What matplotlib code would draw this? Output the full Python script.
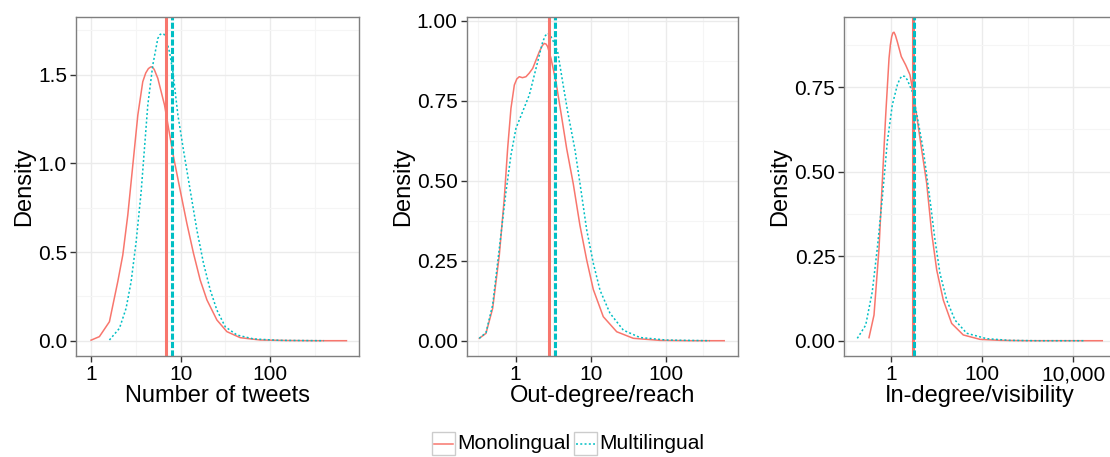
import numpy as np
import matplotlib
matplotlib.use("Agg")
import matplotlib.pyplot as plt
from matplotlib.patches import Rectangle
from matplotlib.lines import Line2D
from matplotlib.ticker import NullFormatter

plt.rcParams['font.family'] = ['Liberation Sans', 'DejaVu Sans']

# ---------------- data (x in log10 units, y = density) ----------------
groups = ["Monolingual", "Multilingual"]

tweets_mono_logx = [0.0, 0.093, 0.205, 0.298, 0.354, 0.41, 0.466, 0.522, 0.577, 0.61, 0.64, 0.665,
                    0.682, 0.705, 0.745, 0.82, 0.92, 0.994, 1.069, 1.143, 1.218, 1.293, 1.404,
                    1.516, 1.665, 1.888, 2.2, 2.5, 2.85]
tweets_mono_y = [0.003, 0.023, 0.107, 0.333, 0.483, 0.709, 0.991, 1.273, 1.461, 1.51, 1.535, 1.544,
                 1.545, 1.53, 1.48, 1.329, 1.038, 0.85, 0.662, 0.493, 0.342, 0.23, 0.117,
                 0.051, 0.017, 0.004, 0.001, 0.0, 0.0]
tweets_multi_logx = [0.205, 0.317, 0.391, 0.447, 0.503, 0.559, 0.596, 0.633, 0.689, 0.745, 0.77,
                     0.794, 0.815, 0.831, 0.875, 0.913, 0.969, 1.031, 1.106, 1.181, 1.255, 1.33,
                     1.404, 1.497, 1.628, 1.813, 2.1, 2.6]
tweets_multi_y = [0.004, 0.07, 0.183, 0.333, 0.558, 0.84, 1.085, 1.329, 1.555, 1.705, 1.727,
                  1.733, 1.728, 1.715, 1.63, 1.517, 1.273, 1.076, 0.85, 0.624, 0.436, 0.286,
                  0.173, 0.079, 0.032, 0.01, 0.002, 0.0]

out_mono_logx = [-0.485, -0.396, -0.307, -0.218, -0.152, -0.107, -0.063, -0.018, 0.015, 0.048,
                 0.09, 0.137, 0.18, 0.227, 0.315, 0.355, 0.381, 0.405, 0.426, 0.471, 0.537, 0.604,
                 0.68, 0.768, 0.857, 0.947, 1.035, 1.168, 1.347, 1.568, 1.924, 2.3, 2.78]
out_mono_y = [0.0075, 0.023, 0.101, 0.268, 0.445, 0.601, 0.726, 0.799, 0.818, 0.825,
              0.822, 0.825, 0.836, 0.851, 0.903, 0.922, 0.929, 0.927, 0.919, 0.882, 0.809, 0.712,
              0.6, 0.49, 0.36, 0.252, 0.16, 0.075, 0.028, 0.0075, 0.001, 0.0, 0.0]
out_multi_logx = [-0.485, -0.396, -0.307, -0.218, -0.129, -0.063, 0.004, 0.093, 0.182, 0.271,
                  0.36, 0.395, 0.426, 0.46, 0.493, 0.56, 0.627, 0.693, 0.791, 0.857, 0.947,
                  1.035, 1.124, 1.257, 1.435, 1.657, 2.01, 2.59]
out_multi_y = [0.0075, 0.025, 0.112, 0.289, 0.466, 0.58, 0.664, 0.716, 0.768, 0.851,
               0.934, 0.953, 0.961, 0.955, 0.94, 0.903, 0.8075, 0.716, 0.596, 0.492, 0.346,
               0.242, 0.158, 0.086, 0.033, 0.01, 0.002, 0.0]

in_mono_logx = [-0.49, -0.38, -0.27, -0.198, -0.123, -0.05, -0.02, 0.009, 0.035, 0.059, 0.09,
                0.132, 0.22, 0.316, 0.411, 0.499, 0.609, 0.668, 0.778, 0.888, 0.998, 1.143,
                1.327, 1.582, 1.95, 2.4, 3.0, 4.637]
in_mono_y = [0.009, 0.076, 0.273, 0.47, 0.667, 0.835, 0.875, 0.899, 0.91, 0.912, 0.903,
             0.884, 0.84, 0.815, 0.786, 0.717, 0.618, 0.564, 0.465, 0.318, 0.209, 0.12,
             0.051, 0.017, 0.004, 0.001, 0.0, 0.0]
in_multi_logx = [-0.747, -0.563, -0.418, -0.308, -0.198, -0.088, 0.022, 0.132, 0.19, 0.242, 0.3,
                 0.352, 0.462, 0.56, 0.703, 0.851, 0.96, 1.07, 1.218, 1.4, 1.657, 2.097, 2.6,
                 3.2, 4.257]
in_multi_y = [0.007, 0.046, 0.145, 0.273, 0.421, 0.588, 0.697, 0.756, 0.775, 0.783, 0.781,
              0.771, 0.736, 0.67, 0.564, 0.416, 0.298, 0.199, 0.12, 0.061, 0.022, 0.006, 0.001,
              0.0, 0.0]

# group means (vertical lines), actual units
tweets_means = [6.89, 8.04]
out_means = [2.81, 3.37]
in_means = [2.95, 3.2]

x_titles = ["Number of tweets", "Out-degree/reach", "In-degree/visibility"]
x_breaks = [[1, 10, 100], [1, 10, 100], [1, 100, 10000]]
x_break_labels = [["1", "10", "100"], ["1", "10", "100"], ["1", "100", "10,000"]]
y_breaks = [[0, 0.5, 1.0, 1.5], [0, 0.25, 0.5, 0.75, 1.0], [0, 0.25, 0.5, 0.75]]
y_break_labels = [["0.0", "0.5", "1.0", "1.5"], ["0.00", "0.25", "0.50", "0.75", "1.00"],
                  ["0.00", "0.25", "0.50", "0.75"]]

# ---------------- style ----------------
RED = '#F8766D'
CYAN = '#00BFC4'
W, H = 1110, 457
fig = plt.figure(figsize=(W / 100, H / 100), dpi=100)


def ax_at(l, r, t, b):
    return fig.add_axes([l / W, 1 - b / H, (r - l) / W, (b - t) / H])


panels = [
    dict(box=(76, 359, 17, 356), xlim=(-0.168, 2.99), ylim=(-0.0863, 1.826),
         xminor=[0.5, 1.5, 2.5], yminor=[0.25, 0.75, 1.25, 1.75],
         mono=(tweets_mono_logx, tweets_mono_y), multi=(tweets_multi_logx, tweets_multi_y),
         means=tweets_means),
    dict(box=(466.7, 738, 17, 356), xlim=(-0.653, 2.964), ylim=(-0.0478, 1.0116),
         xminor=[-0.5, 0.5, 1.5, 2.5], yminor=[0.125, 0.375, 0.625, 0.875],
         mono=(out_mono_logx, out_mono_y), multi=(out_multi_logx, out_multi_y),
         means=out_means),
    dict(box=(844.3, 1114.7, 17, 356), xlim=(-1.033, 4.91), ylim=(-0.0452, 0.957),
         xminor=[-1, 1, 3], yminor=[0.125, 0.375, 0.625, 0.875],
         mono=(in_mono_logx, in_mono_y), multi=(in_multi_logx, in_multi_y),
         means=in_means),
]

dotted = (0, (1.3, 1.5))
dashed = (0, (2.0, 0.75))

for i, p in enumerate(panels):
    ax = ax_at(*p['box'])
    ax.set_xscale('log')
    ax.set_xlim(10 ** p['xlim'][0], 10 ** p['xlim'][1])
    ax.set_ylim(*p['ylim'])
    ax.set_facecolor('white')
    for s in ax.spines.values():
        s.set_color('#7f7f7f')
        s.set_linewidth(1.0)
    ax.set_xticks(x_breaks[i], labels=x_break_labels[i])
    ax.set_xticks([10 ** v for v in p['xminor']], minor=True)
    ax.xaxis.set_minor_formatter(NullFormatter())
    ax.set_yticks(y_breaks[i], labels=y_break_labels[i])
    ax.set_yticks(p['yminor'], minor=True)
    ax.grid(True, which='major', color='#ebebeb', lw=1.0)
    ax.grid(True, which='minor', color='#f5f5f5', lw=0.8)
    ax.set_axisbelow(True)
    ax.tick_params(which='minor', length=0)
    ax.tick_params(which='major', length=4.0, width=1.0, color='#333333', pad=2.5,
                   labelsize=15, labelcolor='black')

    mx, my = p['mono']
    cx, cy = p['multi']
    ax.plot(10 ** np.array(mx), my, color=RED, lw=1.1, solid_joinstyle='round')
    ax.plot(10 ** np.array(cx), cy, color=CYAN, lw=1.1, linestyle=dotted)
    ax.axvline(p['means'][0], color=RED, lw=2.2)
    ax.axvline(p['means'][1], color=CYAN, lw=2.2, linestyle=dashed)

    ax.set_xlabel(x_titles[i], fontsize=17, labelpad=1)
    ax.set_ylabel("Density", fontsize=17, labelpad=2)

# ---------------- legend ----------------
def fx(px):
    return px / W


def fy(py):
    return 1 - py / H


leg_y = 443.5
for (x0, name, col, ls) in [(432, groups[0], RED, '-'), (574, groups[1], CYAN, dotted)]:
    fig.add_artist(Rectangle((fx(x0), fy(455)), 23 / W, 23 / H, transform=fig.transFigure,
                             facecolor='white', edgecolor='#cccccc', lw=1.0))
    fig.add_artist(Line2D([fx(x0 + 2), fx(x0 + 21)], [fy(leg_y), fy(leg_y)],
                          transform=fig.transFigure, color=col, lw=1.1, linestyle=ls))
    fig.text(fx(x0 + 25), fy(leg_y), name, fontsize=15, va='center', ha='left')

fig.savefig("out.png", dpi=100)
